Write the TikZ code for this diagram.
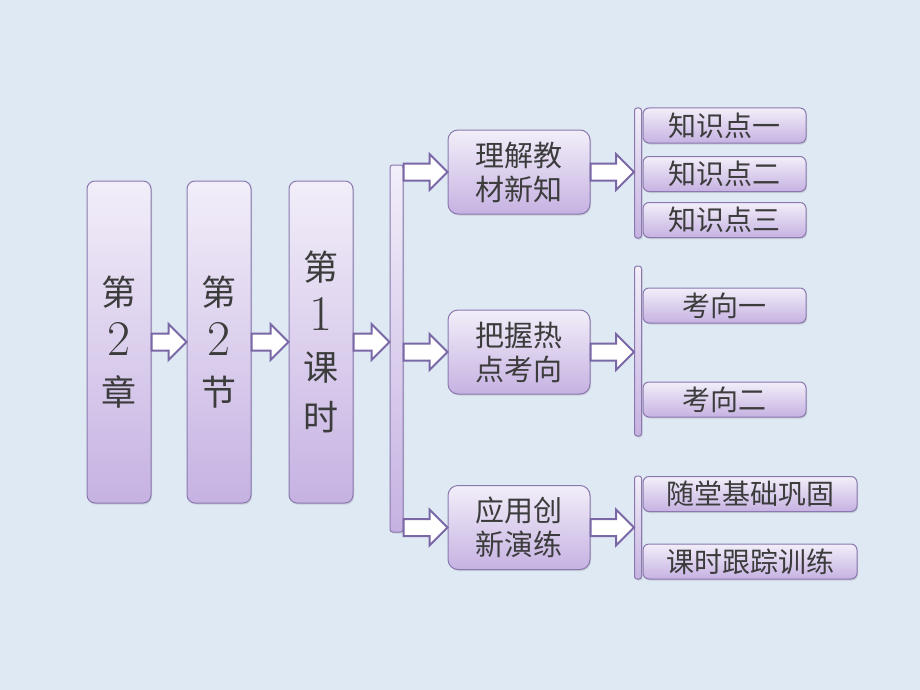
\documentclass[tikz,border=0pt]{standalone}
\usepackage{fontspec}
\newfontfamily\cjk{Noto Sans CJK SC}
\usetikzlibrary{calc,shadows}
\definecolor{bgblue}{HTML}{DEE9F4}
\definecolor{boxtop}{HTML}{F2EEF9}
\definecolor{boxbot}{HTML}{C6B2E2}
\definecolor{boxline}{HTML}{8A78AE}
\definecolor{arrline}{HTML}{7A67A6}
\definecolor{txt}{HTML}{3C3C3C}
\newcommand\fatarrow[2]{\path[fatarr] let \p1=(#1), \p2=(#2) in
  (\x1,\y1+8.5pt) -- (\x2-18pt,\y1+8.5pt) -- (\x2-18pt,\y1+18pt) -- (\x2,\y1)
  -- (\x2-18pt,\y1-18pt) -- (\x2-18pt,\y1-8.5pt) -- (\x1,\y1-8.5pt) -- cycle;}
\newcommand\bignum[1]{{\rmfamily\fontsize{50}{50}\selectfont #1}}
\begin{document}
\begin{tikzpicture}[x=1pt,y=-1pt,
  box/.style={shape=rectangle,draw=boxline,line width=1pt,top color=boxtop,bottom color=boxbot,
    text=txt,align=center,inner sep=0pt,drop shadow={opacity=0.25,shadow xshift=1pt,shadow yshift=-1.5pt}},
  tallbox/.style={box,rounded corners=8pt,minimum width=64,minimum height=322,font=\cjk\fontsize{35}{50}\selectfont},
  midbox/.style={box,rounded corners=10pt,minimum width=142,minimum height=84,font=\cjk\fontsize{29}{34}\selectfont},
  leafbox/.style={box,rounded corners=6pt,minimum height=35,font=\cjk\fontsize{28}{34}\selectfont},
  bar/.style={box,rounded corners=2.5pt,minimum width=#1},
  fatarr/.style={draw=arrline,line width=2pt,fill=white,line join=miter}]
	\useasboundingbox (0,0) rectangle (920,690);
	\fill[bgblue] (0,0) rectangle (920,690);

	\node (chap) at (119,342)[tallbox] {第\\\bignum{2}\\章};
	\node (sect) at (219,342)[tallbox] {第\\\bignum{2}\\节};
	\node (lesson) at (321,342)[tallbox] {第\\\bignum{1}\\课\\时};

	\node (mainBar) at (396.5,348.5)[bar=13,minimum height=367] {};

	\node (study) at (519,172)[midbox] {理解教\\材新知};
	\node (focus) at (519,352)[midbox] {把握热\\点考向};
	\node (apply) at (519,527.5)[midbox] {应用创\\新演练};

	\node (studyBar) at (638,173)[bar=7,minimum height=130] {};
	\node (focusBar) at (638,351)[bar=7,minimum height=170] {};
	\node (applyBar) at (638,527.5)[bar=7,minimum height=103] {};

	\node (pointA) at (724.5,125.5)[leafbox,minimum width=163] {知识点一};
	\node (pointB) at (724.5,174)[leafbox,minimum width=163] {知识点二};
	\node (pointC) at (724.5,220)[leafbox,minimum width=163] {知识点三};
	\node (trendA) at (724.5,305.5)[leafbox,minimum width=163] {考向一};
	\node (trendB) at (724.5,399.5)[leafbox,minimum width=163] {考向二};
	\node (practice) at (750,494)[leafbox,minimum width=214] {随堂基础巩固};
	\node (training) at (750,561.5)[leafbox,minimum width=214] {课时跟踪训练};

	\fatarrow{chap.east}{sect.west}
	\fatarrow{sect.east}{lesson.west}
	\fatarrow{lesson.east}{mainBar.west |- lesson.east}
	\fatarrow{mainBar.east |- study.west}{study.west}
	\fatarrow{mainBar.east |- focus.west}{focus.west}
	\fatarrow{mainBar.east |- apply.west}{apply.west}
	\fatarrow{study.east}{studyBar.west |- study.east}
	\fatarrow{focus.east}{focusBar.west |- focus.east}
	\fatarrow{apply.east}{applyBar.west |- apply.east}
\end{tikzpicture}
\end{document}
